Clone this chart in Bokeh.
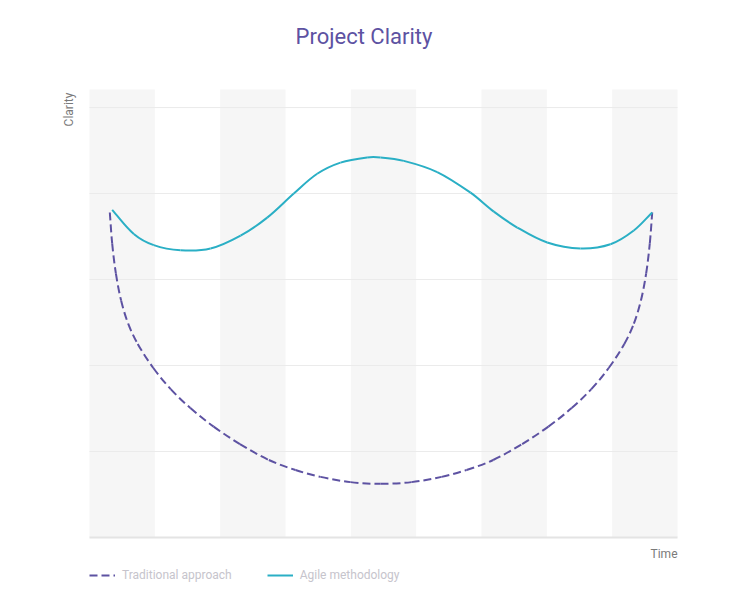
from bokeh.plotting import figure
from bokeh.models import Label, Range1d, ColumnDataSource, Legend, LegendItem
from bokeh.embed import file_html
from bokeh.resources import INLINE
import math

# ---- data (x in time units, y in clarity units) ----
agile_x = [0.347, 0.678, 0.984, 1.393, 1.852, 2.312, 2.72, 3.127, 3.485, 3.842,
           4.25, 4.454, 4.811, 5.322, 5.832, 6.189, 6.547, 7.006, 7.515, 7.974,
           8.331, 8.613]
agile_y = [3.81, 3.53, 3.40, 3.34, 3.36, 3.51, 3.72, 4.00, 4.23, 4.36,
           4.42, 4.42, 4.38, 4.25, 4.01, 3.79, 3.605, 3.43, 3.36, 3.41,
           3.57, 3.78]

trad_x = [0.311, 0.347, 0.404, 0.484, 0.592, 0.738, 0.977, 1.243, 1.544, 1.900,
          2.302, 2.745, 3.153, 3.536, 3.995, 4.454, 4.929, 5.388, 5.771, 6.179,
          6.622, 7.024, 7.380, 7.681, 7.947, 8.186, 8.332, 8.440, 8.520, 8.576,
          8.613]
trad_y = [3.78, 3.42, 3.07, 2.756, 2.487, 2.251, 1.971, 1.726, 1.505, 1.290,
          1.087, 0.901, 0.785, 0.705, 0.644, 0.624, 0.644, 0.705, 0.785, 0.901,
          1.087, 1.290, 1.505, 1.726, 1.971, 2.251, 2.487, 2.756, 3.07, 3.42,
          3.78]

band_starts = [0, 2, 4, 6, 8]
y_grid = [1, 2, 3, 4, 5]
x_min, x_max = 0, 9
y_min, y_max = 0, 5.21

title_text = "Project Clarity"
y_label = "Clarity"
x_label = "Time"
series_names = ["Traditional approach", "Agile methodology"]

PURPLE = "#5d52a2"
CYAN = "#2aafc5"
FONT = "Roboto"

# plot area spans px 89..677 horizontally and 89..537 vertically in a 730x600 canvas
PX_PER_X = (677 - 89) / (x_max - x_min)
PX_PER_Y = (537 - 89) / (y_max - y_min)

p = figure(width=730, height=600, output_backend="svg", toolbar_location=None,
           x_range=Range1d(x_min - 89 / PX_PER_X, x_max + (730 - 677) / PX_PER_X),
           y_range=Range1d(y_min - (600 - 537) / PX_PER_Y, y_max + 89 / PX_PER_Y),
           min_border=0)
p.outline_line_color = None
p.xaxis.visible = False
p.yaxis.visible = False
p.xgrid.visible = False
p.ygrid.visible = False
p.background_fill_color = "white"
p.border_fill_color = "white"


def dx(px):
    return x_min + (px - 89) / PX_PER_X


def dy(py):
    return y_min + (537 - py) / PX_PER_Y


# alternating vertical bands
p.quad(left=band_starts, right=[b + 1 for b in band_starts],
       bottom=y_min, top=y_max, fill_color="#f6f6f6", line_color=None)

# horizontal grid lines
p.segment(x0=x_min, x1=x_max, y0=y_grid, y1=y_grid, line_color="#ebebeb", line_width=1)
# bottom axis line
p.segment(x0=[x_min], x1=[x_max], y0=[y_min], y1=[y_min], line_color="#e4e4e4", line_width=2)


def smooth(xs, ys):
    """Smooth cubic bezier segments through the read points (tangent-based, screen space)."""
    n = len(xs)
    X = [x * PX_PER_X for x in xs]
    Y = [y * PX_PER_Y for y in ys]
    T = []
    for i in range(n):
        a = max(i - 1, 0)
        b = min(i + 1, n - 1)
        tx, ty = X[b] - X[a], Y[b] - Y[a]
        ln = math.hypot(tx, ty) or 1.0
        T.append((tx / ln, ty / ln))
    d = dict(x0=[], y0=[], x1=[], y1=[], cx0=[], cy0=[], cx1=[], cy1=[])
    for i in range(n - 1):
        seg = math.hypot(X[i + 1] - X[i], Y[i + 1] - Y[i]) / 3
        d["x0"].append(xs[i]); d["y0"].append(ys[i])
        d["x1"].append(xs[i + 1]); d["y1"].append(ys[i + 1])
        d["cx0"].append((X[i] + T[i][0] * seg) / PX_PER_X)
        d["cy0"].append((Y[i] + T[i][1] * seg) / PX_PER_Y)
        d["cx1"].append((X[i + 1] - T[i + 1][0] * seg) / PX_PER_X)
        d["cy1"].append((Y[i + 1] - T[i + 1][1] * seg) / PX_PER_Y)
    return ColumnDataSource(d)


r_trad = p.bezier(x0="x0", y0="y0", x1="x1", y1="y1", cx0="cx0", cy0="cy0",
                  cx1="cx1", cy1="cy1", source=smooth(trad_x, trad_y),
                  line_color=PURPLE, line_width=2, line_dash="8 4")
r_agile = p.bezier(x0="x0", y0="y0", x1="x1", y1="y1", cx0="cx0", cy0="cy0",
                   cx1="cx1", cy1="cy1", source=smooth(agile_x, agile_y),
                   line_color=CYAN, line_width=2)

p.add_layout(Label(x=dx(363.5), y=dy(36), text=title_text, text_font=FONT,
                   text_font_size="22px", text_color=PURPLE, text_align="center",
                   text_baseline="middle"))
p.add_layout(Label(x=dx(68), y=dy(109), text=y_label, text_font=FONT,
                   text_font_size="12px", text_color="#7a7a7a", text_align="center",
                   text_baseline="middle", angle=math.pi / 2))
p.add_layout(Label(x=dx(677), y=dy(553), text=x_label, text_font=FONT,
                   text_font_size="12px", text_color="#7a7a7a", text_align="right",
                   text_baseline="middle"))

legend = Legend(items=[LegendItem(label=series_names[0], renderers=[r_trad]),
                       LegendItem(label=series_names[1], renderers=[r_agile])],
                orientation="horizontal", location=(89, 18),
                padding=0, margin=0, spacing=35, glyph_width=26, glyph_height=12,
                label_standoff=7, label_height=12,
                label_text_font=FONT, label_text_font_size="12px",
                label_text_color="#c6c4cc", label_text_baseline="middle",
                border_line_color=None, background_fill_alpha=0)
p.add_layout(legend)

open("out.html", "w").write(file_html(p, INLINE))
